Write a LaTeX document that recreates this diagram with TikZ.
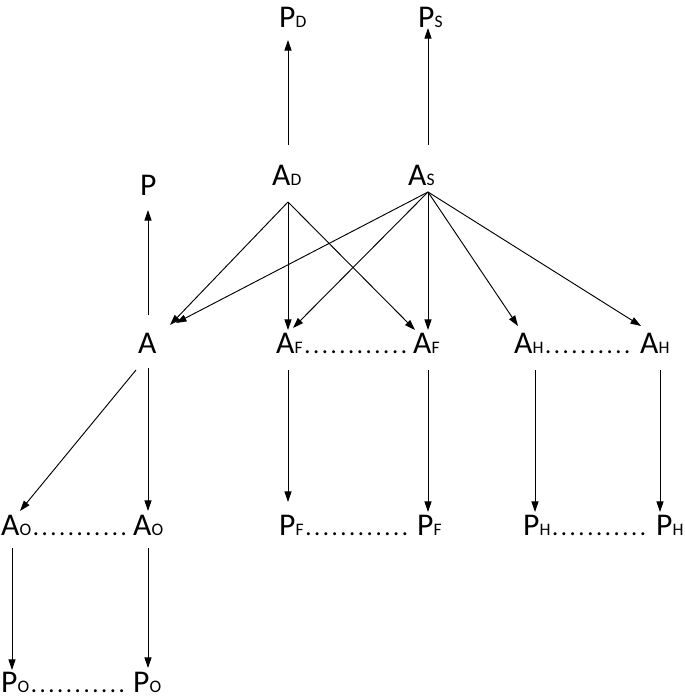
\documentclass[tikz,border=0pt]{standalone}
\usepackage{fontspec}
\setmainfont{Carlito}
\usetikzlibrary{arrows.meta}
\newcommand{\sbs}[1]{{\fontsize{15}{15}\selectfont #1}}
\newcommand{\dts}[1]{{\fontsize{21}{21}\selectfont\kern1pt\foreach \i in {1,...,#1}{.\kern2.2pt}}}
\begin{document}
\begin{tikzpicture}[x=0.03cm,y=-0.03cm,
  lab/.style={font=\fontsize{27}{27}\selectfont, inner sep=0pt, anchor=base west},
  dots/.style={inner sep=0pt, anchor=base west},
  arr/.style={-{Triangle[length=9pt,width=6pt]}, line width=0.8pt}]
\useasboundingbox (0,0) rectangle (685,699);
\node[lab] (PD) at (279,28) {P\sbs{D}};
\node[lab] (PS) at (418,28) {P\sbs{S}};
\node[lab] (AD) at (272,185) {A\sbs{D}};
\node[lab] (AS) at (408,185) {A\sbs{S}};
\node[lab] (P) at (140,195) {P};
\node[lab] (A) at (138,353) {A};
\node[lab] (AF1) at (276,353) {A\sbs{F}};
\node[dots] (d1) at (AF1.base east) {\dts{12}};
\node[lab] (AF2) at (413,353) {A\sbs{F}};
\node[lab] (AH1) at (514,353) {A\sbs{H}};
\node[dots] (d2) at (AH1.base east) {\dts{10}};
\node[lab] (AH2) at (640,353) {A\sbs{H}};
\node[lab] (AO1) at (1,535) {A\sbs{O}};
\node[dots] (d3) at (AO1.base east) {\dts{11}};
\node[lab] (AO2) at (133,535) {A\sbs{O}};
\node[lab] (PF1) at (279,535) {P\sbs{F}};
\node[dots] (d4) at (PF1.base east) {\dts{12}};
\node[lab] (PF2) at (417,535) {P\sbs{F}};
\node[lab] (PH1) at (523,535) {P\sbs{H}};
\node[dots] (d5) at (PH1.base east) {\dts{11}};
\node[lab] (PH2) at (656,535) {P\sbs{H}};
\node[lab] (PO1) at (1,692) {P\sbs{O}};
\node[dots] (d6) at (PO1.base east) {\dts{11}};
\node[lab] (PO2) at (133,692) {P\sbs{O}};
\coordinate (adS) at (288,202);
\coordinate (asS) at (428,192);
\coordinate (adN) at (288,145);
\coordinate (asN) at (428,145);
\coordinate (pdS) at (288,40);
\coordinate (psS) at (428,28);
\coordinate (aN) at (148,315);
\coordinate (pS) at (148,210);
\coordinate (aT) at (170,325);
\coordinate (aT2) at (176,323);
\coordinate (af1T) at (288,330);
\coordinate (af1T2) at (293,328);
\coordinate (af2T) at (428,330);
\coordinate (af2T2) at (415,330);
\coordinate (ah1T) at (518,326);
\coordinate (ah2T) at (641,326);
\coordinate (aS) at (148,368);
\coordinate (aSW) at (136,370);
\coordinate (ao1T) at (20,511);
\coordinate (ao2T) at (148,511);
\coordinate (af1S) at (288,370);
\coordinate (pf1T) at (288,502);
\coordinate (af2S) at (428,370);
\coordinate (pf2T) at (428,512);
\coordinate (ah1S) at (535,370);
\coordinate (ph1T) at (535,512);
\coordinate (ah2S) at (660,370);
\coordinate (ph2T) at (660,512);
\coordinate (ao1S) at (12,548);
\coordinate (po1T) at (12,670);
\coordinate (ao2S) at (148,548);
\coordinate (po2T) at (148,668);
\draw[arr] (adN) -- (pdS);
\draw[arr] (asN) -- (psS);
\draw[arr] (aN) -- (pS);
\draw[arr] (adS) -- (aT);
\draw[arr] (adS) -- (af1T);
\draw[arr] (adS) -- (af2T2);
\draw[arr] (asS) -- (aT2);
\draw[arr] (asS) -- (af1T2);
\draw[arr] (asS) -- (af2T);
\draw[arr] (asS) -- (ah1T);
\draw[arr] (asS) -- (ah2T);
\draw[arr] (aS) -- (ao2T);
\draw[arr] (aSW) -- (ao1T);
\draw[arr] (af1S) -- (pf1T);
\draw[arr] (af2S) -- (pf2T);
\draw[arr] (ah1S) -- (ph1T);
\draw[arr] (ah2S) -- (ph2T);
\draw[arr] (ao1S) -- (po1T);
\draw[arr] (ao2S) -- (po2T);
\end{tikzpicture}
\end{document}
